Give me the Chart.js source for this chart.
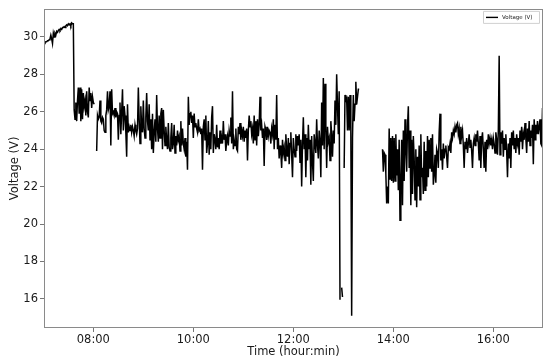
<!DOCTYPE html>
<html><head><meta charset="utf-8">
<script src="https://cdn.jsdelivr.net/npm/chart.js@4/dist/chart.umd.min.js"></script>
<style>html,body{margin:0;padding:0;background:#fff}#wrap{width:550px;height:364px}</style>
</head><body><div id="wrap"><canvas id="c" width="550" height="364"></canvas></div>
<script>
const seriesName = "Voltage (V)";
const xTitle = "Time (hour:min)";
const yTitle = "Voltage (V)";
const firstSample = "07:01";
const sampleStepMin = 1;
const xTickLabels = ["08:00", "10:00", "12:00", "14:00", "16:00"];
const yTickValues = [16, 18, 20, 22, 24, 26, 28, 30];
const xRangeMin = [420.8, 1019.6];
const yRange = [14.44, 31.5];
const voltage = [
 29.65, 29.7, 29.75, 29.75, 29.8, 29.8, 29.85, 29.9, 30.1, 29.9,
 29.65, 30.2, 30.0, 30.2, 30.1, 30.3, 30.25, 30.35, 30.4, 30.35,
 30.45, 30.4, 30.5, 30.5, 30.55, 30.5, 30.6, 30.65, 30.6, 30.7,
 30.65, 30.7, 30.6, 30.75, 30.7, 30.7, 26.1, 25.6, 26.5, 25.5,
 26.6, 27.3, 25.9, 27.3, 25.5, 27.2, 25.6, 27.0, 26.3, 26.6,
 25.8, 27.1, 26.0, 25.7, 27.3, 26.6, 27.0, 26.2, 26.8, 26.5,
 26.4, null, null, 23.9, 25.8, 25.6, 25.7, 26.6, 25.5, 25.4,
 25.7, 25.6, 25.0, 24.9, 25.8, 26.1, 27.1, 26.1, 26.3, 27.1,
 24.2, 27.2, 25.9, 26.0, 25.8, 26.2, 25.7, 26.0, 25.9, 24.5,
 25.8, 26.5, 24.8, 26.0, 27.2, 25.0, 26.3, 25.8, 24.9, 23.6,
 26.4, 24.9, 25.2, 25.0, 25.3, 24.9, 25.2, 25.0, 24.7, 25.3,
 25.0, 24.8, 25.1, 27.3, 25.6, 24.3, 26.3, 25.2, 24.9, 26.6,
 25.1, 24.6, 25.7, 27.0, 25.5, 25.0, 26.4, 24.5, 25.6, 24.0,
 25.9, 23.8, 24.9, 25.6, 24.4, 26.9, 25.1, 24.4, 25.8, 24.6,
 25.9, 26.2, 24.0, 26.1, 25.0, 24.2, 25.2, 24.5, 24.0, 25.4,
 24.1, 23.9, 24.6, 25.4, 24.0, 24.3, 25.3, 23.8, 24.7, 24.2,
 25.0, 24.5, 24.7, 23.9, 25.5, 24.2, 25.1, 24.3, 24.0, 24.6,
 23.6, 24.4, 22.9, 26.8, 25.3, 25.9, 26.0, 25.4, 25.8, 24.6,
 25.9, 25.2, 25.4, 25.1, 24.9, 25.6, 25.0, 25.1, 24.8, 25.1,
 22.9, 25.2, 25.6, 24.5, 25.8, 23.8, 24.3, 25.5, 23.7, 24.9,
 24.0, 25.7, 26.3, 23.8, 24.8, 24.5, 24.0, 25.3, 24.1, 24.6,
 24.0, 25.0, 24.3, 24.6, 24.3, 25.5, 24.5, 24.8, 23.9, 24.4,
 24.7, 24.2, 25.0, 24.7, 25.7, 24.3, 27.1, 24.0, 24.5, 24.2,
 25.1, 24.0, 23.9, 25.2, 24.8, 25.4, 24.5, 25.0, 24.7, 25.2,
 24.4, 25.0, 24.6, 25.1, 23.4, 25.0, 25.8, 25.2, 25.5, 24.8,
 25.1, 24.3, 25.8, 24.5, 25.5, 24.2, 25.6, 24.7, 25.3, 26.8,
 25.0, 25.3, 24.6, 25.1, 23.1, 25.2, 25.0, 24.5, 25.2, 24.7,
 25.0, 24.9, 24.3, 25.1, 24.8, 25.6, 24.0, 25.3, 24.5, 26.9,
 24.0, 24.6, 23.5, 24.2, 23.8, 23.0, 24.5, 23.8, 24.1, 23.4,
 24.8, 24.0, 23.6, 24.6, 23.2, 24.3, 24.9, 23.7, 22.5, 24.6,
 24.0, 23.6, 24.8, 23.9, 24.7, 24.2, 24.8, 23.3, 24.5, 22.0,
 24.3, 25.7, 24.0, 24.8, 22.5, 24.6, 23.4, 25.3, 24.0, 24.5,
 22.1, 24.7, 23.3, 22.3, 24.8, 24.3, 23.8, 25.6, 24.2, 23.5,
 25.0, 24.4, 22.5, 26.5, 24.2, 27.8, 24.0, 27.5, 25.1, 23.0,
 25.2, 24.4, 24.6, 23.4, 25.5, 24.8, 23.6, 25.0, 24.3, 26.6,
 25.3, 28.0, 26.3, 24.8, 27.1, 15.95, null, 16.6, 16.1, null,
 23.0, 26.9, 26.6, 26.7, 25.0, 26.8, 25.0, 26.9, 25.0, 15.1,
 24.6, 26.9, 25.5, 26.4, 27.6, 26.4, 26.8, 27.2, 27.2, null,
 null, null, null, null, null, null, null, null, null, null,
 null, null, null, null, null, null, null, null, null, null,
 null, null, null, null, null, null,
 24.0, 22.8, 23.8, 23.7, 22.7, 21.1, 22.0, 21.1, 25.1, 22.4,
 24.6, 22.3, 24.7, 22.2, 24.6, 22.3, 24.8, 22.6, 24.0, 21.8,
 24.5, 20.2, 22.0, 24.5, 21.0, 25.0, 22.3, 25.6, 24.0, 22.8,
 25.2, 26.3, 23.0, 25.0, 21.0, 24.5, 21.6, 24.7, 23.5, 21.3,
 24.0, 20.9, 23.6, 22.0, 24.2, 21.3, 24.8, 22.5, 23.0, 21.6,
 24.4, 21.8, 23.9, 22.0, 24.7, 22.5, 24.5, 23.0, 24.6, 22.8,
 24.8, 22.1, 22.6, 23.7, 22.2, 24.0, 23.8, 23.0, 24.9, 25.9,
 23.4, 24.0, 22.9, 24.3, 23.5, 24.0, 24.2, 23.6, 23.0, 24.1,
 24.0, 24.3, 23.8, 24.9, 24.6, 25.0, 24.8, 25.2, 24.9, 25.3,
 25.4, 24.8, 25.1, 24.3, 25.2, 24.7, 25.0, 24.2, 23.0, 24.4,
 24.0, 24.6, 23.8, 24.3, 24.8, 24.1, 24.5, 23.9, 23.0, 24.3,
 24.6, 24.2, 24.8, 24.4, 25.0, 24.3, 23.4, 24.7, 23.0, 24.5,
 24.9, 24.0, 23.0, 24.4, 22.8, 24.5, 24.0, 24.8, 24.3, 24.6,
 24.2, 24.5, 24.0, 24.6, 24.3, 23.8, 24.9, 24.5, 23.7, 25.0,
 29.0, 23.7, 24.9, 24.3, 25.0, 23.6, 24.6, 24.0, 24.8, 23.9,
 22.5, 24.3, 23.5, 24.6, 23.0, 24.9, 24.2, 25.0, 24.0, 24.6,
 23.8, 24.8, 24.3, 24.6, 23.7, 25.0, 24.4, 25.2, 24.0, 24.8,
 24.5, 25.4, 24.6, 23.8, 25.1, 24.4, 25.5, 24.2, 25.0, 24.6,
 25.3, 23.2, 25.6, 24.5, 25.3, 24.8, 25.5, 24.8, 25.2, 25.6,
 24.3, 24.2, 26.2, 24.0
];

const toMin = s => { const p = s.split(':'); return (+p[0]) * 60 + (+p[1]); };
const fmt = m => { const h = Math.floor(m / 60), mm = Math.round(m - h * 60); return String(h).padStart(2, '0') + ':' + String(mm).padStart(2, '0'); };
const start = toMin(firstSample);
const points = voltage.map((v, i) => ({ x: start + i * sampleStepMin, y: v }));

const FONT = 'DejaVu Sans';
const frame = {
  id: 'frame',
  afterDraw(chart) {
    const { ctx, chartArea: a } = chart;
    ctx.save();
    ctx.strokeStyle = '#8a8a8a';
    ctx.lineWidth = 1;
    ctx.strokeRect(Math.round(a.left) + 0.5, Math.round(a.top) + 0.5, Math.round(a.right - a.left) - 1, Math.round(a.bottom - a.top) - 1);
    // legend
    const bx = a.right - 60, by = a.top + 2, bw = 56, bh = 12;
    ctx.fillStyle = 'rgba(255,255,255,0.85)';
    ctx.strokeStyle = '#d0d0d0';
    ctx.beginPath();
    ctx.rect(bx + 0.5, by + 0.5, bw, bh);
    ctx.fill(); ctx.stroke();
    ctx.strokeStyle = '#000';
    ctx.lineWidth = 1.4;
    ctx.beginPath();
    ctx.moveTo(bx + 3, by + 6.5); ctx.lineTo(bx + 15, by + 6.5);
    ctx.stroke();
    ctx.fillStyle = '#222';
    ctx.font = '5.5px "' + FONT + '"';
    ctx.textBaseline = 'middle';
    ctx.textAlign = 'left';
    ctx.fillText(seriesName, bx + 19, by + 6.5);
    ctx.restore();
  }
};

new Chart(document.getElementById('c').getContext('2d'), {
  type: 'line',
  data: { datasets: [{ label: seriesName, data: points, borderColor: '#000', backgroundColor: '#000', borderWidth: 1.5, pointRadius: 0, tension: 0, spanGaps: false, fill: false }] },
  options: {
    responsive: false, animation: false, devicePixelRatio: 1,
    layout: { padding: { top: 7, right: 7, left: 0, bottom: 0 } },
    plugins: { legend: { display: false }, tooltip: { enabled: false } },
    scales: {
      x: {
        type: 'linear', min: xRangeMin[0], max: xRangeMin[1],
        afterBuildTicks: s => { s.ticks = xTickLabels.map(t => ({ value: toMin(t) })); },
        afterFit: s => { s.height = 36; },
        ticks: { callback: v => fmt(v), color: '#1a1a1a', font: { family: FONT, size: 11.5 }, padding: 1, maxRotation: 0, autoSkip: false },
        grid: { drawOnChartArea: false, drawTicks: true, tickLength: 4, color: '#777' },
        border: { display: false },
        title: { display: true, text: xTitle, color: '#1a1a1a', font: { family: FONT, size: 11.5 }, padding: { top: 0, bottom: 5 } }
      },
      y: {
        type: 'linear', min: yRange[0], max: yRange[1],
        afterBuildTicks: s => { s.ticks = yTickValues.map(v => ({ value: v })); },
        afterFit: s => { s.width = 44; },
        ticks: { callback: v => String(v), color: '#1a1a1a', font: { family: FONT, size: 11.5 }, padding: 2 },
        grid: { drawOnChartArea: false, drawTicks: true, tickLength: 4, color: '#777' },
        border: { display: false },
        title: { display: true, text: yTitle, color: '#1a1a1a', font: { family: FONT, size: 11.5 }, padding: { top: 8, bottom: 0 } }
      }
    }
  },
  plugins: [frame]
});
</script>
</body></html>
